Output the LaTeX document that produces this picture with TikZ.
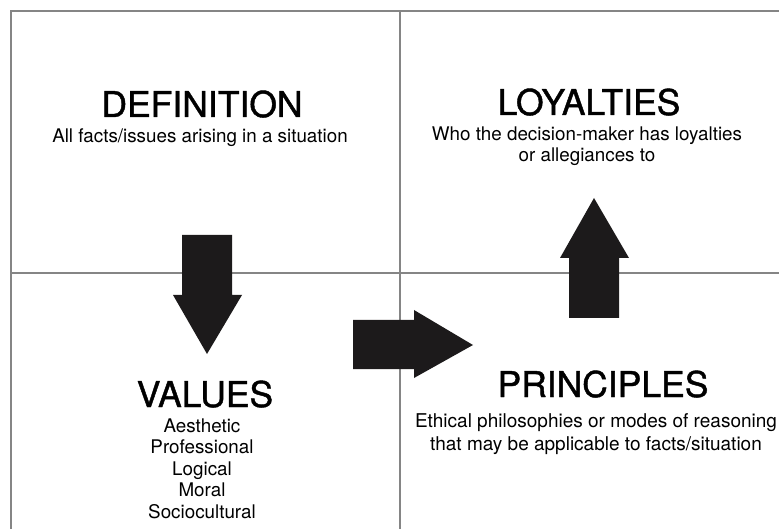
\documentclass[tikz,border=0pt]{standalone}
\usepackage{fontspec}
\setmainfont{TeX Gyre Heros}
\newfontfamily\headfont[FakeBold=1.2]{TeX Gyre Heros}
\usetikzlibrary{positioning}

\definecolor{gridgray}{HTML}{858585}
\definecolor{arrowblack}{HTML}{1C1A1B}

\tikzset{
  grid line/.style={draw=gridgray, line width=1.1pt},
  block arrow/.style={fill=arrowblack},
  heading/.style={anchor=base, inner sep=0pt, font=\headfont\fontsize{35.5}{40}\selectfont},
  blurb/.style={anchor=base, inner sep=0pt, align=center, font=\fontsize{18.8}{21.5}\selectfont},
}

\begin{document}
\begin{tikzpicture}[x=1pt, y=-1pt]
\useasboundingbox (0,0) rectangle (779,529);
% frame and quadrants
\coordinate (tl) at (11,11);
\coordinate (tr) at (779,11);
\coordinate (tm) at (400,11);
\coordinate (bl) at (11,529);
\coordinate (bm) at (400,529);
\coordinate (ml) at (11,273);
\coordinate (mr) at (779,273);
\draw[grid line] (bl) -- (tl) -- (tr);
\draw[grid line] (tm) -- (bm);
\draw[grid line] (ml) -- (mr);

% texts (base = baseline of the last line)
\node[heading] (defn) at (202,117) {DEFINITION};
\node[blurb] (defntxt) at (200,143) {All facts/issues arising in a situation};
\node[heading] (loyal) at (589,115) {LOYALTIES};
\node[blurb] (loyaltxt) at (587,162) {Who the decision-maker has loyalties\\or allegiances to};
\node[heading] (vals) at (205,407) {VALUES};
\node[blurb] (valstxt) at (202,518) {Aesthetic\\Professional\\Logical\\Moral\\Sociocultural};
\node[heading] (princ) at (603,397) {PRINCIPLES};
\node[blurb, font=\fontsize{19}{23}\selectfont] (princtxt) at (596,450) {Ethical philosophies or modes of reasoning\\that may be applicable to facts/situation};

% block arrows
\fill[block arrow] (182,235) -- (232,235) -- (232,295) -- (242,295) -- (207,354)
  -- (173,295) -- (182,295) -- cycle;
\fill[block arrow] (353,320) -- (414,320) -- (414,310) -- (473,345) -- (414,378)
  -- (414,369) -- (353,369) -- cycle;
\fill[block arrow] (569,318) -- (569,258) -- (560,258) -- (594,198) -- (629,258)
  -- (619,258) -- (619,318) -- cycle;
\end{tikzpicture}
\end{document}
